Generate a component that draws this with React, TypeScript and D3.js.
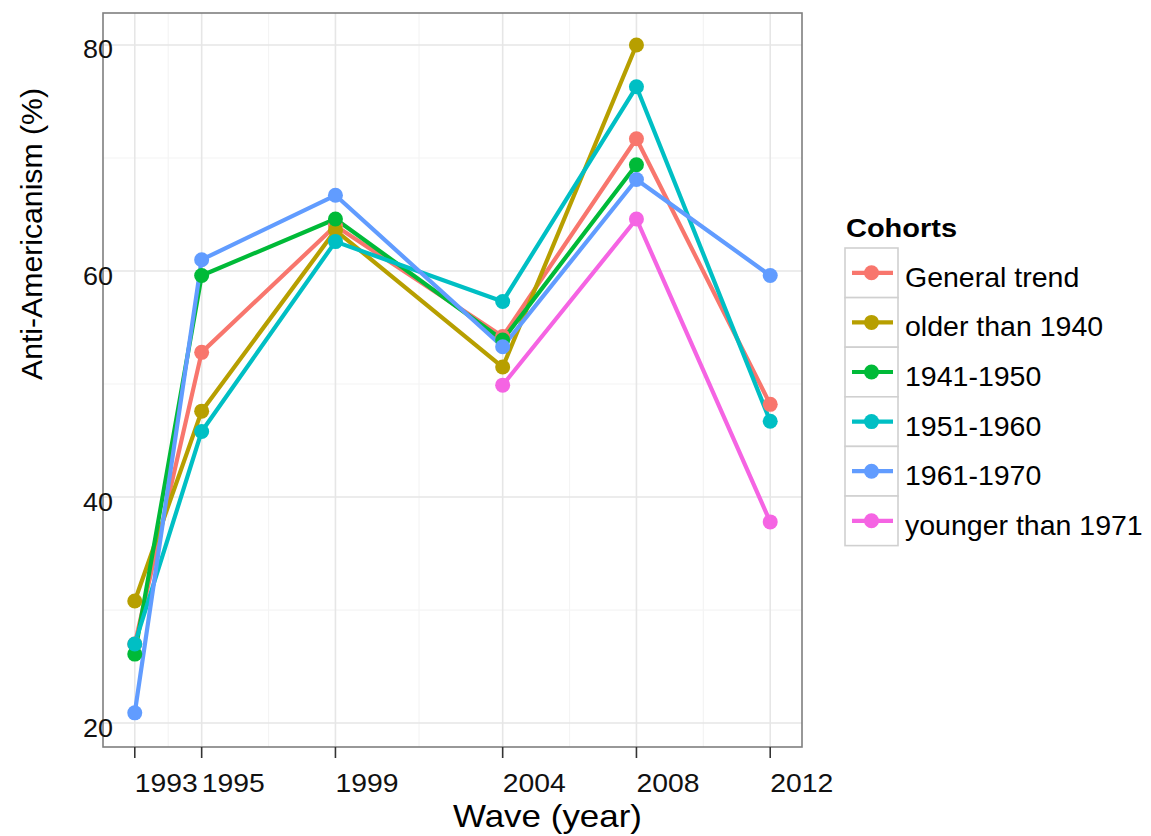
import React from "react";
import * as d3 from "d3";

const years = [1993, 1995, 1999, 2004, 2008, 2012];
const cohortNames = ["General trend", "older than 1940", "1941-1950", "1951-1960", "1961-1970", "younger than 1971"];
const generalTrend = [27.0, 52.8, 64.0, 54.2, 71.7, 48.2];
const olderThan1940 = [30.8, 47.6, 63.6, 51.5, 80.0, null];
const c1941_1950 = [26.1, 59.6, 64.6, 53.9, 69.4, null];
const c1951_1960 = [27.0, 45.8, 62.6, 57.3, 76.3, 46.7];
const c1961_1970 = [20.9, 61.0, 66.7, 53.3, 68.1, 59.6];
const youngerThan1971 = [null, null, null, 49.9, 64.6, 37.8];
const seriesValues = [generalTrend, olderThan1940, c1941_1950, c1951_1960, c1961_1970, youngerThan1971];
const colors = ["#F8766D", "#B79F00", "#00BA38", "#00BFC4", "#619CFF", "#F564E3"];
const yTicks = [20, 40, 60, 80];
const yMinor = [30, 50, 70];
const xMinor = [1994, 1997, 2001.5, 2006, 2010];

export default function App() {
  const left = 103, right = 802, top = 13, bottom = 747;
  const x = d3.scaleLinear().domain([1992.05, 2012.95]).range([left, right]);
  const y = d3.scaleLinear().domain([17.88, 82.83]).range([bottom, top]);
  const line = d3
    .line<[number, number | null]>()
    .defined((d) => d[1] != null)
    .x((d) => x(d[0]))
    .y((d) => y(d[1] as number));
  const font = "Liberation Sans, Arial, sans-serif";
  const keyLeft = 845, keyW = 53, keyTop = 248, keyH = 49.6;

  return (
    <svg width={1151} height={836} style={{ position: "absolute", left: 0, top: 0, background: "#fff" }} fontFamily={font}>
      <rect x={0} y={0} width={1151} height={836} fill="#fff" />
      {yMinor.map((v) => (
        <line key={"ym" + v} x1={left} x2={right} y1={y(v)} y2={y(v)} stroke="#f4f4f4" strokeWidth={1.2} />
      ))}
      {xMinor.map((v) => (
        <line key={"xm" + v} y1={top} y2={bottom} x1={x(v)} x2={x(v)} stroke="#f4f4f4" strokeWidth={1.2} />
      ))}
      {yTicks.map((v) => (
        <line key={"yM" + v} x1={left} x2={right} y1={y(v)} y2={y(v)} stroke="#e6e6e6" strokeWidth={1.6} />
      ))}
      {years.map((v) => (
        <line key={"xM" + v} y1={top} y2={bottom} x1={x(v)} x2={x(v)} stroke="#e6e6e6" strokeWidth={1.6} />
      ))}
      {seriesValues.map((vals, i) => (
        <path
          key={"l" + i}
          d={line(years.map((yr, j) => [yr, vals[j]] as [number, number | null])) || ""}
          fill="none"
          stroke={colors[i]}
          strokeWidth={4.2}
          strokeLinejoin="round"
        />
      ))}
      {seriesValues.map((vals, i) =>
        years.map((yr, j) =>
          vals[j] == null ? null : (
            <circle key={"p" + i + "-" + j} cx={x(yr)} cy={y(vals[j] as number)} r={7.5} fill={colors[i]} />
          )
        )
      )}
      <rect x={left} y={top} width={right - left} height={bottom - top} fill="none" stroke="#7f7f7f" strokeWidth={1.6} />
      {years.map((v) => (
        <g key={"xt" + v}>
          <line x1={x(v)} x2={x(v)} y1={bottom} y2={bottom + 11} stroke="#333" strokeWidth={1.6} />
          <text x={x(v)} y={792} fontSize={26.5} textLength={63} lengthAdjust="spacingAndGlyphs" fill="#111">
            {v}
          </text>
        </g>
      ))}
      {yTicks.map((v) => (
        <text key={"yt" + v} x={83} y={y(v) + 13.5} fontSize={26.5} textLength={30} lengthAdjust="spacingAndGlyphs" fill="#111">
          {v}
        </text>
      ))}
      <text x={453} y={827} fontSize={32} textLength={189} lengthAdjust="spacingAndGlyphs" fill="#000">
        Wave (year)
      </text>
      <text
        transform={`translate(42,${(top + bottom) / 2}) rotate(-90)`}
        fontSize={30}
        textLength={292}
        lengthAdjust="spacingAndGlyphs"
        fill="#000"
      >
        Anti-Americanism (%)
      </text>
      <text x={846} y={237} fontSize={26.5} fontWeight="bold" textLength={111} lengthAdjust="spacingAndGlyphs" fill="#000">
        Cohorts
      </text>
      {cohortNames.map((name, i) => {
        const ky = keyTop + i * keyH;
        const cy = ky + keyH / 2;
        return (
          <g key={"lg" + i}>
            <rect x={keyLeft} y={ky} width={keyW} height={keyH} fill="#fff" stroke="#d0d0d0" strokeWidth={1.6} />
            <line x1={keyLeft + 7} x2={keyLeft + keyW - 5} y1={cy} y2={cy} stroke={colors[i]} strokeWidth={4.2} />
            <circle cx={keyLeft + keyW / 2} cy={cy} r={7.5} fill={colors[i]} />
            <text x={905} y={cy + 14} fontSize={28.5} fill="#000">
              {name}
            </text>
          </g>
        );
      })}
    </svg>
  );
}
